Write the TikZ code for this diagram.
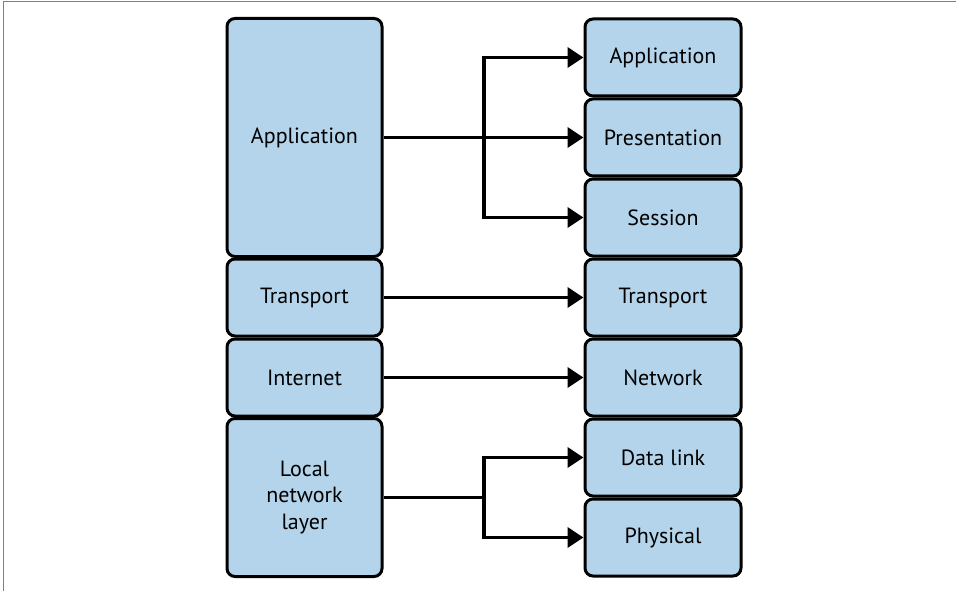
\documentclass[tikz,border=0pt]{standalone}
\usepackage{fontspec}
\setmainfont{PT Sans}
\usetikzlibrary{arrows.meta}
\definecolor{layerblue}{HTML}{B3D4EA}
\tikzset{
  layer/.style={draw=black, line width=3pt, fill=layerblue, rounded corners=8pt,
    minimum width=155pt, minimum height=77pt, inner sep=0pt, align=center,
    font=\fontsize{22}{26.5}\selectfont},
  link/.style={line width=3.8pt, -{Triangle[length=16pt,width=20pt]}},
}

\begin{document}
\begin{tikzpicture}[x=1pt,y=-1pt]
\useasboundingbox (0,0) rectangle (956,591);
\draw[gray, line width=1pt] (3,591) -- (3,2) -- (956,2);
% TCP/IP side
\node[layer, minimum height=238pt] (tapp) at (304.5,137.5) {Application};
\node[layer] (ttra) at (304.5,297.5) {Transport};
\node[layer] (tint) at (304.5,377.5) {Internet};
\node[layer, minimum height=158pt] (tloc) at (304.5,497.5) {Local\\network\\layer};
% OSI side
\foreach \name/\txt [count=\i] in {oapp/Application, opre/Presentation, oses/Session,
    otra/Transport, onet/Network, odat/Data link, ophy/Physical}
  \node[layer, minimum width=156pt] (\name) at (663,{80*\i-22.5}) {\txt};
% mappings
\coordinate (asplit) at (484,137.5);
\coordinate (lsplit) at (484,497.5);
\draw[link] (tapp.east) -- (opre.west);
\draw[link, rounded corners=0pt] (asplit) |- (oapp.west);
\draw[link, rounded corners=0pt] (asplit) |- (oses.west);
\draw[link] (ttra) -- (otra);
\draw[link] (tint) -- (onet);
\draw[line width=3.8pt] (tloc.east) -- (lsplit);
\draw[link] (lsplit) |- (odat.west);
\draw[link] (lsplit) |- (ophy.west);
\end{tikzpicture}
\end{document}
